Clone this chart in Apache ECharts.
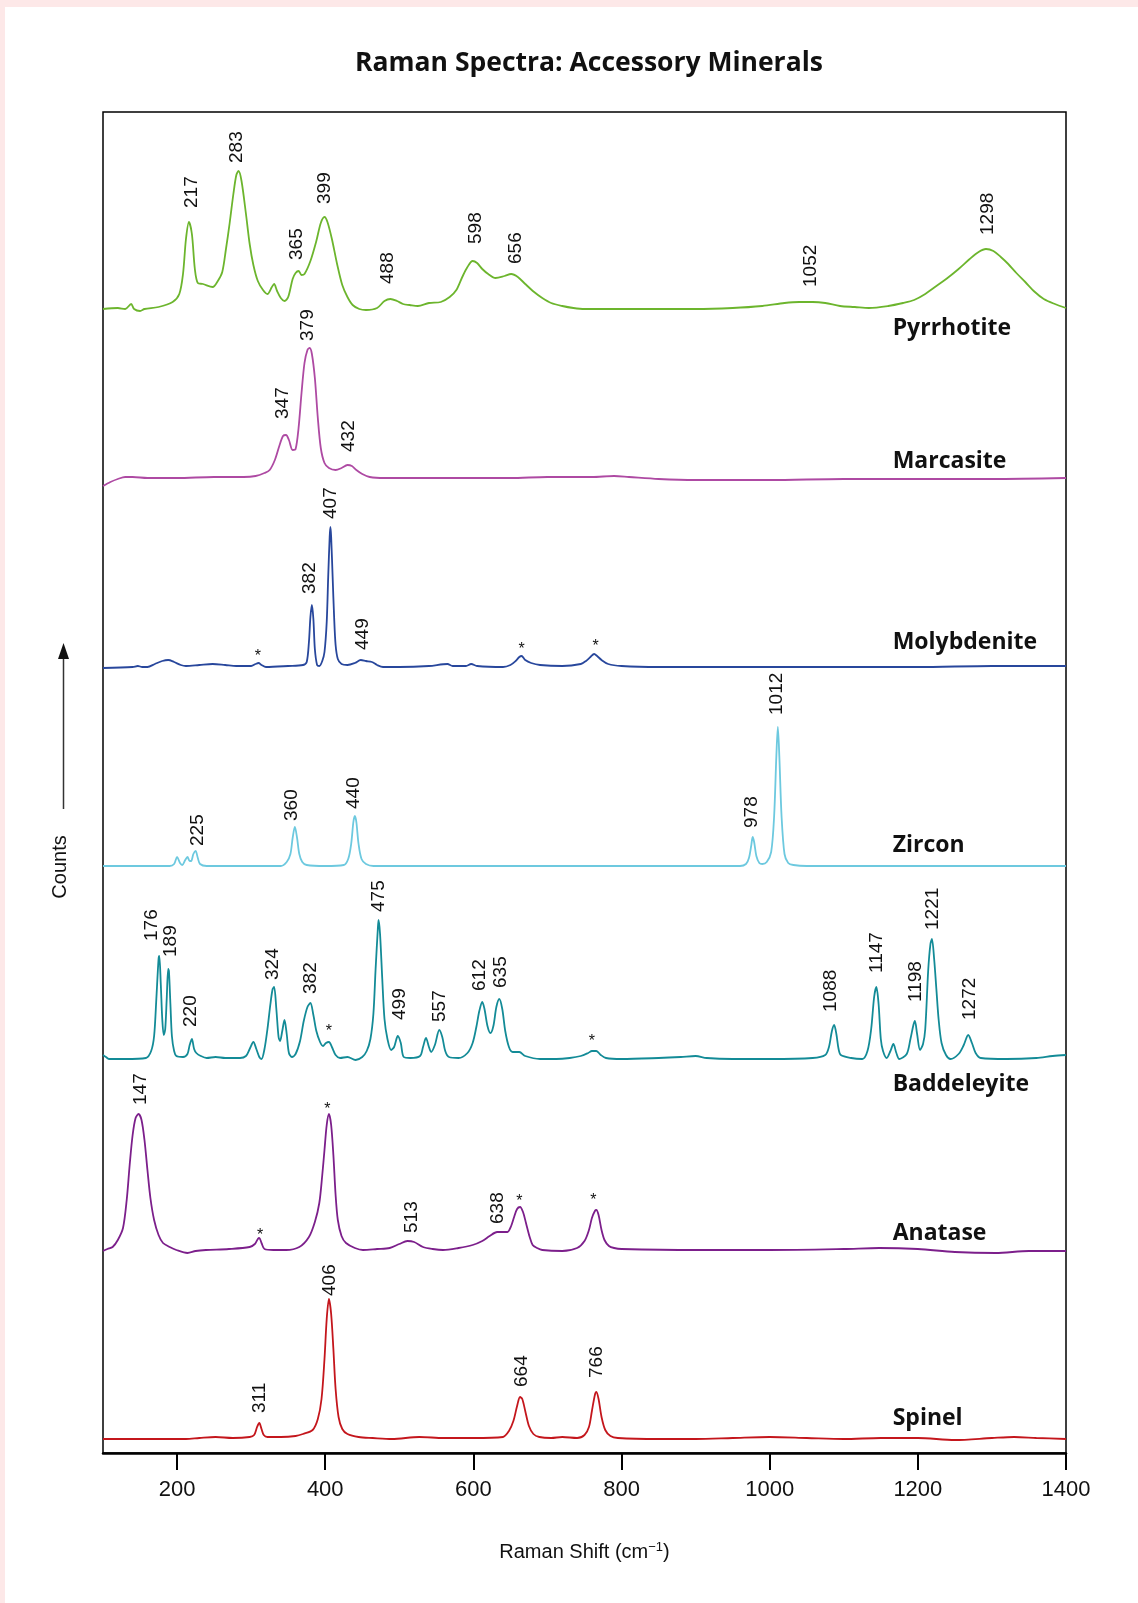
<!DOCTYPE html>
<html>
<head>
<meta charset="utf-8">
<title>Raman Spectra: Accessory Minerals</title>
<script src="https://cdn.jsdelivr.net/npm/echarts@6/dist/echarts.min.js"></script>
<style>
  html, body { margin: 0; padding: 0; background: #fde8e8; }
  #chart { position: absolute; left: 5px; top: 7px; width: 1133px; height: 1596px; background: #fff; }
</style>
</head>
<body>
<div id="chart"></div>
<script>
// spectra: [shift cm-1, height above the trace's own baseline]
const minerals = ['Pyrrhotite', 'Marcasite', 'Molybdenite', 'Zircon', 'Baddeleyite', 'Anatase', 'Spinel'];
const colors = ['#6cb52d', '#ae4aa3', '#28479c', '#6dc9df', '#138b97', '#7c1f8b', '#c4161c'];
const offsets = [1144, 975, 786, 587, 394, 203, 14];
const nameHeights = [-19, 17, 25, 21, -25, 17, 21];
const xTicks = [200, 400, 600, 800, 1000, 1200, 1400];

const pyrrhotite = [[100,0],[120,1],[130,0],[138,5],[142,0],[150,-2],[156,0],[175,2],[194,7],[203,15],[208,35],[212,70],[216,87],[220,75],[224,40],[228,26],[235,25],[248,22],[255,28],[261,37],[266,60],[271,86],[276,115],[280,134],[283,138],[287,128],[293,95],[298,65],[303,44],[309,28],[316,19],[322,15],[328,22],[331,25],[335,18],[340,11],[345,8],[350,12],[356,30],[360,36],[364,38],[368,34],[372,35],[380,48],[388,68],[394,86],[399,92],[403,87],[409,70],[416,45],[423,24],[430,12],[437,4],[446,0],[455,-1],[470,1],[480,8],[488,10],[497,8],[505,5],[514,4],[525,3],[540,6],[556,7],[568,12],[577,19],[585,32],[592,42],[599,48],[605,46],[612,40],[620,35],[630,31],[642,33],[651,35],[660,32],[670,25],[682,17],[693,11],[705,6],[720,3],[735,1],[750,0],[800,0],[850,0],[900,0],[950,1],[990,3],[1020,6],[1040,7],[1058,7],[1075,6],[1095,3],[1115,2],[1134,1],[1160,3],[1180,6],[1195,9],[1210,15],[1225,23],[1240,31],[1255,40],[1270,50],[1282,57],[1292,60],[1302,58],[1312,52],[1322,45],[1333,36],[1345,27],[1358,17],[1370,10],[1385,5],[1400,1]];
const marcasite = [[100,-8],[110,-4],[120,-1],[130,1],[140,1],[160,0],[200,0],[250,1],[290,1],[306,2],[318,5],[325,8],[332,18],[338,32],[343,42],[347,43],[351,38],[356,28],[360,29],[364,50],[368,85],[372,115],[376,128],[379,130],[382,124],[386,100],[390,60],[394,30],[399,15],[405,10],[414,8],[422,10],[430,13],[436,12],[442,8],[450,4],[460,1],[480,0],[550,0],[650,0],[700,1],[760,1],[790,2],[810,1],[850,-1],[900,-2],[1000,-2],[1100,-1],[1200,-1],[1300,-1],[1400,0]];
const molybdenite = [[100,-1],[140,0],[147,1],[153,0],[160,0],[170,3],[180,6],[188,7],[196,5],[205,2],[212,1],[230,2],[248,3],[265,2],[280,1],[300,1],[306,3],[310,4],[314,2],[320,0],[350,1],[370,2],[375,5],[378,25],[380,50],[382,62],[384,48],[386,18],[389,2],[392,1],[396,6],[399,15],[402,45],[404,90],[406,130],[407,140],[408,130],[410,90],[412,50],[414,22],[417,8],[422,3],[430,2],[440,4],[448,7],[455,6],[463,5],[470,2],[478,0],[500,0],[540,1],[565,3],[572,1],[590,1],[597,3],[605,1],[640,0],[650,2],[657,6],[662,10],[665,11],[670,7],[678,4],[690,2],[720,1],[745,3],[752,6],[758,10],[763,13],[767,11],[773,7],[782,3],[800,1],[850,0],[900,0],[1000,0],[1100,0],[1200,0],[1300,1],[1400,1]];
const zircon = [[100,0],[150,0],[190,0],[196,2],[200,9],[204,3],[207,1],[211,6],[214,9],[217,5],[219,5],[222,12],[225,15],[228,8],[231,2],[240,0],[300,0],[340,0],[348,4],[353,12],[356,28],[359,39],[362,28],[365,12],[369,4],[375,1],[400,0],[425,1],[431,7],[435,22],[438,44],[440,50],[442,44],[445,22],[449,7],[455,2],[465,0],[550,0],[600,0],[700,0],[800,0],[900,0],[960,0],[968,2],[972,8],[975,20],[977,29],[979,24],[982,10],[986,3],[990,2],[996,4],[1002,14],[1006,50],[1009,110],[1011,139],[1013,110],[1016,50],[1020,12],[1025,3],[1032,1],[1050,0],[1100,0],[1200,0],[1300,0],[1400,0]];
const baddeleyite = [[100,4],[104,2],[108,0],[130,0],[158,1],[165,8],[169,23],[172,60],[175,100],[176,103],[178,75],[180,40],[182,24],[184,30],[186,60],[188,90],[189,88],[191,55],[193,23],[196,8],[199,3],[208,2],[214,5],[217,14],[220,20],[223,10],[226,6],[232,3],[240,1],[252,2],[265,1],[285,1],[293,3],[298,10],[303,17],[307,10],[311,2],[314,0],[318,10],[322,30],[326,55],[329,70],[331,72],[334,50],[337,22],[339,18],[342,28],[345,39],[348,25],[351,6],[355,2],[360,5],[366,18],[371,38],[376,52],[380,56],[384,44],[388,28],[393,17],[397,13],[401,16],[405,17],[409,12],[414,4],[420,1],[430,2],[441,-1],[450,2],[456,8],[461,20],[465,45],[468,90],[471,130],[472,139],[474,125],[477,80],[480,40],[484,20],[489,9],[493,12],[498,23],[502,16],[506,2],[515,1],[528,3],[532,12],[536,21],[540,12],[543,7],[548,14],[554,29],[558,22],[562,8],[567,2],[580,1],[592,6],[599,16],[604,32],[608,48],[612,57],[615,50],[619,33],[623,26],[627,33],[631,52],[635,60],[639,50],[643,28],[648,12],[653,7],[662,7],[670,3],[690,0],[712,0],[730,1],[745,3],[755,6],[760,8],[766,8],[772,4],[779,1],[800,0],[850,1],[880,2],[900,3],[915,1],[950,0],[1000,0],[1058,1],[1075,4],[1080,12],[1084,28],[1087,34],[1090,25],[1093,10],[1096,4],[1110,1],[1125,0],[1132,8],[1137,30],[1141,62],[1144,72],[1147,55],[1150,20],[1153,8],[1158,1],[1163,8],[1167,15],[1171,6],[1175,0],[1185,5],[1190,20],[1194,34],[1196,38],[1199,25],[1203,9],[1207,15],[1210,30],[1214,89],[1217,115],[1219,120],[1222,100],[1225,70],[1228,40],[1232,16],[1238,4],[1244,0],[1255,5],[1262,14],[1268,24],[1273,16],[1278,6],[1285,1],[1320,0],[1360,1],[1382,3],[1400,4]];
const anatase = [[100,-1],[106,1],[113,3],[120,10],[127,22],[132,50],[136,85],[140,115],[144,132],[148,136],[152,130],[156,110],[160,80],[164,52],[169,30],[175,15],[181,7],[190,3],[199,0],[214,-3],[225,-1],[239,0],[270,1],[298,3],[305,6],[309,11],[311,12],[314,7],[318,1],[330,0],[347,0],[365,3],[378,13],[386,28],[392,47],[396,75],[399,100],[402,125],[405,136],[408,125],[411,95],[414,55],[417,30],[422,14],[428,7],[440,2],[451,0],[470,1],[487,2],[500,6],[511,9],[520,8],[532,3],[545,1],[559,0],[580,2],[599,5],[612,9],[622,14],[632,18],[640,18],[646,18],[651,24],[655,33],[659,41],[663,43],[667,38],[671,27],[676,13],[680,5],[686,2],[693,0],[720,-1],[740,2],[750,9],[756,20],[760,32],[764,39],[766,40],[769,35],[773,20],[777,10],[783,4],[790,2],[800,1],[900,0],[1000,0],[1100,1],[1148,2],[1200,1],[1250,-2],[1305,-3],[1350,-1],[1400,-1]];
const spinel = [[100,0],[150,0],[212,0],[230,1],[252,2],[275,1],[298,2],[304,4],[308,12],[311,16],[314,10],[317,4],[322,2],[340,2],[360,3],[370,5],[383,9],[390,20],[395,40],[399,80],[402,120],[405,140],[408,125],[411,90],[414,50],[418,22],[423,10],[430,5],[445,2],[464,1],[490,0],[527,2],[560,1],[600,1],[640,2],[648,8],[654,18],[659,33],[663,42],[666,40],[670,28],[675,13],[681,5],[689,2],[705,1],[720,2],[740,1],[750,4],[756,12],[760,28],[764,44],[766,47],[769,40],[773,22],[778,9],[785,3],[795,1],[850,0],[900,0],[950,1],[1000,2],[1050,1],[1100,0],[1150,1],[1200,1],[1250,-1],[1300,1],[1330,2],[1360,1],[1400,0]];
const spectra = [pyrrhotite, marcasite, molybdenite, zircon, baddeleyite, anatase, spinel];

// peak labels: [text, shift, height above baseline where the label starts]
const peaks = [
  [['217',220,101],['283',280,146],['365',361,49],['399',399,105],['488',485,25],['598',603,65],['656',657,45],['1052',1055,22],['1298',1294,74]],
  [['347',343,59],['379',377,137],['432',432,26]],
  [['382',379,73],['407',408,148],['449',450,17]],
  [['225',228,20],['360',355,45],['440',438,57],['978',976,38],['1012',1010,151]],
  [['176',166,118],['189',192,102],['220',219,32],['324',329,79],['382',380,65],['475',472,147],['499',500,39],['557',554,37],['612',609,68],['635',637,71],['1088',1083,47],['1147',1144,86],['1198',1197,57],['1221',1220,129],['1272',1270,39]],
  [['147',151,145],['513',517,17],['638',633,26]],
  [['311',312,26],['406',406,143],['664',665,52],['766',766,61]]
];
// asterisks: [shift, height]
const stars = [
  [],
  [],
  [[309,13],[665,20],[765,23]],
  [],
  [[405,30],[760,20]],
  [[312,17],[403,143],[662,51],[762,52]],
  []
];
const nameX = 1166;

const chart = echarts.init(document.getElementById('chart'));

const series = minerals.map((name, i) => {
  const off = offsets[i];
  const marks = peaks[i].map(p => ({
    coord: [p[1], off + p[2]],
    label: {
      show: true, formatter: p[0], rotate: 90, position: [0, 0],
      align: 'left', verticalAlign: 'middle',
      fontSize: 19, color: '#111', fontFamily: 'Liberation Sans'
    }
  }));
  stars[i].forEach(s => marks.push({
    coord: [s[0], off + s[1]],
    label: {
      show: true, formatter: '*', position: [0, 0], offset: [0, 3],
      align: 'center', verticalAlign: 'middle',
      fontSize: 16, color: '#111', fontFamily: 'Liberation Sans'
    }
  }));
  marks.push({
    coord: [nameX, off + nameHeights[i]],
    label: {
      show: true, formatter: name, position: [0, 0],
      align: 'left', verticalAlign: 'middle',
      fontSize: 23, fontWeight: 'bold', color: '#111', fontFamily: 'Open Sans'
    }
  });
  return {
    name: name,
    type: 'line',
    showSymbol: false,
    smooth: 0.3,
    animation: false,
    lineStyle: { color: colors[i], width: 1.8 },
    itemStyle: { color: colors[i] },
    data: spectra[i].map(p => [p[0], off + p[1]]),
    markPoint: { symbol: 'circle', symbolSize: 0, silent: true, animation: false, data: marks }
  };
});

chart.setOption({
  animation: false,
  title: {
    text: 'Raman Spectra: Accessory Minerals',
    left: 579, top: 38, textAlign: 'center',
    textStyle: { fontSize: 26.5, fontWeight: 'bold', color: '#111', fontFamily: 'Open Sans' }
  },
  grid: {
    left: 98, right: 72, top: 105, bottom: 150,
    show: true, borderColor: '#000', borderWidth: 1.5, backgroundColor: 'transparent'
  },
  xAxis: {
    type: 'value', min: 100, max: 1400,
    name: 'Raman Shift (cm{sup|−1})',
    nameLocation: 'middle', nameGap: 88,
    nameTextStyle: {
      fontSize: 20, color: '#111', fontFamily: 'Liberation Sans',
      rich: { sup: { fontSize: 13, color: '#111', fontFamily: 'Liberation Sans', padding: [0, 0, 10, 0] } }
    },
    axisLine: { show: true, lineStyle: { color: '#000', width: 2.5 } },
    axisTick: { show: true, length: 17, customValues: xTicks, lineStyle: { color: '#000', width: 2 } },
    axisLabel: {
      customValues: xTicks, fontSize: 22, color: '#111', margin: 26, fontFamily: 'Liberation Sans',
      formatter: v => String(v)
    },
    splitLine: { show: false }
  },
  yAxis: {
    type: 'value', min: 0, max: 1341,
    axisLine: { show: false }, axisTick: { show: false },
    axisLabel: { show: false }, splitLine: { show: false }
  },
  graphic: [
    {
      type: 'text', x: 55, y: 860, rotation: Math.PI / 2,
      style: { text: 'Counts', fontSize: 20, fill: '#111', fontFamily: 'Liberation Sans', align: 'center', verticalAlign: 'middle' }
    },
    { type: 'line', shape: { x1: 58.5, y1: 802, x2: 58.5, y2: 648 }, style: { stroke: '#333', lineWidth: 1.5 } },
    { type: 'polygon', shape: { points: [[58.5, 636], [53, 652], [64, 652]] }, style: { fill: '#111' } }
  ],
  series: series
});
</script>
</body>
</html>
